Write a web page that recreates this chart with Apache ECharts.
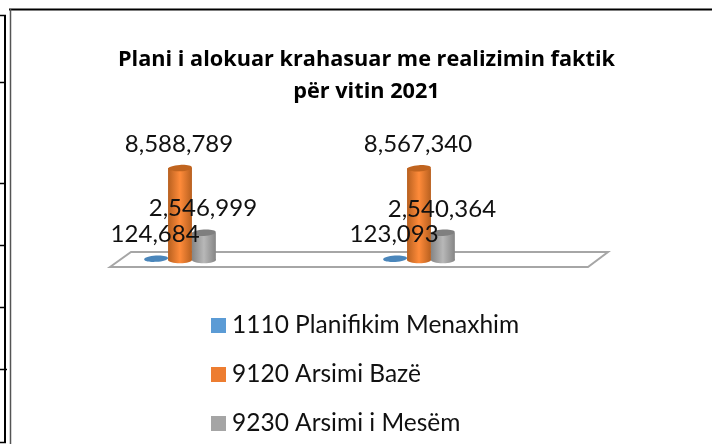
<!DOCTYPE html>
<html><head><meta charset="utf-8">
<style>html,body{margin:0;padding:0;background:#fff}#c{width:712px;height:444px}</style>
<script src="https://cdn.jsdelivr.net/npm/echarts@6/dist/echarts.min.js"></script></head>
<body><div id="c"></div>
<script>
const titleText = 'Plani i alokuar krahasuar me realizimin faktik\npër vitin 2021';
const categories = ['Plani', 'Realizimi'];
const seriesNames = ['1110 Planifikim Menaxhim', '9120 Arsimi Bazë', '9230 Arsimi i Mesëm'];
const planifikim = [124684, 123093];
const arsimiBaze = [8588789, 8567340];
const arsimiMesem = [2546999, 2540364];
const legendColors = ['#5b9bd5', '#ed7d31', '#a5a5a5'];
const edgeColors = ['#41719c', '#b8601f', '#858585'];
const midColors = ['#5b9bd5', '#ff8b3a', '#b8b8b8'];
const topColors = ['#4a86bb', '#c0641f', '#7f7f7f'];
const font = 'Lato';

function cylinder(si) {
  return function (params, api) {
    const idx = api.value(0), val = api.value(1);
    const band = api.size([1, 0])[0];
    const w = band * 0.1;
    const base = api.coord([idx, 0]);
    const top = api.coord([idx, val]);
    const cx = base[0] + (si - 1) * w;
    const rx = w / 2, ry = 3.2;
    const ch = [];
    const grad = {type: 'linear', x: 0, y: 0, x2: 1, y2: 0, colorStops: [
      {offset: 0, color: edgeColors[si]}, {offset: 0.5, color: midColors[si]}, {offset: 1, color: edgeColors[si]}]};
    if (si > 0) {
      ch.push({type: 'ellipse', shape: {cx: cx, cy: base[1], rx: rx, ry: ry}, style: {fill: grad}});
      ch.push({type: 'rect', shape: {x: cx - rx, y: top[1], width: w, height: base[1] - top[1]}, style: {fill: grad}});
    }
    ch.push({type: 'ellipse', shape: {cx: cx, cy: top[1], rx: rx, ry: ry},
      rotation: 0.06, originX: cx, originY: top[1], style: {fill: topColors[si]}});
    ch.push({type: 'text', x: cx - 1, y: top[1] - 24, z2: 10, style: {
      text: api.value(1).toLocaleString('en-US'), font: '400 24px ' + font,
      fill: '#111', align: 'center', verticalAlign: 'middle'}});
    return {type: 'group', children: ch};
  };
}
const values = [planifikim, arsimiBaze, arsimiMesem];
const chart = echarts.init(document.getElementById('c'), null, {renderer: 'canvas'});
chart.setOption({
  animation: false,
  backgroundColor: '#fff',
  title: {text: titleText, left: 361.5, top: 39, textAlign: 'center',
    textStyle: {fontFamily: 'Open Sans', fontSize: 21.7, fontWeight: 'bold', color: '#000', lineHeight: 32}},
  grid: {left: 60.5, width: 478, top: 153, height: 107},
  xAxis: {type: 'category', data: categories, show: false},
  yAxis: {type: 'value', min: 0, max: 10000000, show: false},
  legend: {orient: 'vertical', left: 211, top: 313, height: 200, padding: 0, icon: 'rect', itemWidth: 15, itemHeight: 15,
    itemGap: 24, data: seriesNames,
    textStyle: {fontFamily: font, fontSize: 24.5, color: '#111', lineHeight: 20, padding: [0, 0, 0, 1]}},
  graphic: [
    {type: 'polygon', z: -1, shape: {points: [[110, 267], [131, 252], [608, 252], [588, 267]]},
      style: {fill: '#fff', stroke: '#a6a6a6', lineWidth: 2}},
    {type: 'line', shape: {x1: 9, y1: 9.5, x2: 712, y2: 9.5}, style: {stroke: '#000', lineWidth: 2}},
    {type: 'line', shape: {x1: 10.5, y1: 9, x2: 10.5, y2: 444}, style: {stroke: '#555', lineWidth: 1.5}},
    {type: 'line', shape: {x1: 5, y1: 15, x2: 5, y2: 443}, style: {stroke: '#000', lineWidth: 2}},
    ...[15, 82, 183, 245, 307, 369, 442].map(y => ({type: 'line',
      shape: {x1: 0, y1: y + 0.5, x2: y === 369 ? 7 : 6, y2: y + 0.5}, style: {stroke: '#000', lineWidth: 1.5}}))
  ],
  series: seriesNames.map((name, si) => ({
    type: 'custom', name: name, renderItem: cylinder(si), clip: false,
    itemStyle: {color: legendColors[si]},
    encode: {x: 0, y: 1},
    data: categories.map((c, i) => [i, values[si][i]])
  }))
});
</script></body></html>
